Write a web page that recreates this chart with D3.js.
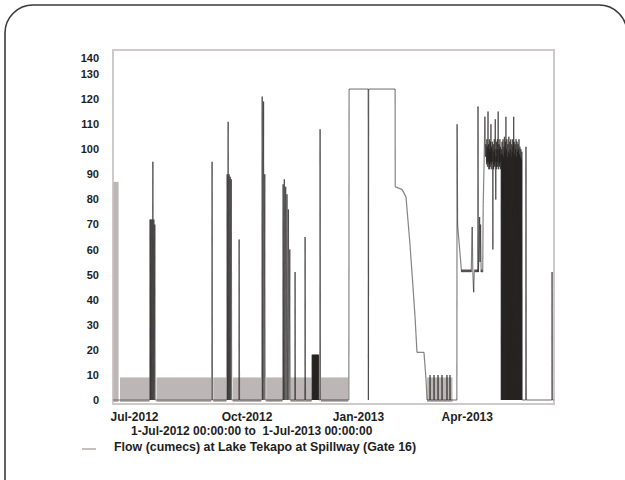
<!DOCTYPE html>
<html>
<head>
<meta charset="utf-8">
<script src="https://cdn.jsdelivr.net/npm/d3@7"></script>
<style>
  html, body { margin: 0; padding: 0; background: #ffffff; }
  svg { display: block; }
  text { font-family: "Liberation Sans", Arial, sans-serif; font-weight: bold; fill: #1e1e1e; }
</style>
</head>
<body>
<svg id="chart" width="625" height="480"></svg>
<script>
// ---------------- data ----------------
const periodStart = "2012-07-01";
const periodEnd = "2013-07-01";
const yTickValues = [0, 10, 20, 30, 40, 50, 60, 70, 80, 90, 100, 110, 120, 130, 140];
const xTickDates = ["2012-07-01", "2012-10-01", "2013-01-01", "2013-04-01"];
const rangeLabel = "1-Jul-2012 00:00:00 to  1-Jul-2013 00:00:00";
const seriesName = "Flow (cumecs) at Lake Tekapo at Spillway (Gate 16)";

// periods where the gate cycled rapidly: [startDay, endDay, low, high] (days since 1-Jul-2012)
const cyclingBands = [
  [0.3, 4.6, 0, 87],
  [5.8, 30.2, 0, 9],
  [36.0, 81.3, 0, 9],
  [83.0, 93.8, 0, 9],
  [99.2, 122.6, 0, 9],
  [126.8, 140.2, 0, 9],
  [147.0, 164.3, 0, 9],
  [172.2, 194.6, 0, 9],
  [260.0, 281.0, 0, 9]
];

// flow trace: [day since 1-Jul-2012, cumecs]
const flowSeries = [
  [0, 0],
  [30.5, 0], [30.7, 72], [31.0, 0], [31.4, 72], [31.7, 0], [32.2, 72], [32.5, 0], [33.0, 95], [33.3, 0],
  [33.8, 72], [34.1, 0], [34.6, 70], [34.9, 0],
  [81.8, 0], [82.0, 95], [82.3, 0],
  [94.3, 0], [94.5, 90], [94.8, 0], [95.3, 111], [95.6, 0], [96.1, 90], [96.4, 0], [97.0, 89], [97.3, 0],
  [97.9, 88], [98.2, 0],
  [104.2, 0], [104.4, 64], [104.7, 0],
  [123.2, 0], [123.5, 121], [123.8, 0], [124.6, 119], [124.9, 0], [125.6, 90], [125.9, 0],
  [140.6, 0], [140.8, 86], [141.1, 0], [141.8, 88], [142.1, 0], [142.9, 85], [143.2, 0], [144.0, 82], [144.3, 0],
  [145.2, 76], [145.5, 0], [146.3, 60], [146.6, 0],
  [150.5, 0], [150.7, 51], [151.0, 0],
  [158.8, 0], [159.0, 65], [159.3, 0],
  [164.7, 0], [164.9, 18], [165.1, 0], [165.3, 18], [165.5, 0], [165.7, 18], [165.9, 0], [166.1, 18], [166.3, 0],
  [166.5, 18], [166.7, 0], [166.9, 18], [167.1, 0], [167.3, 18], [167.5, 0], [167.7, 18], [167.9, 0], [168.1, 18],
  [168.3, 0], [168.5, 18], [168.7, 0], [168.9, 18], [169.1, 0], [169.3, 18], [169.5, 0], [169.7, 18], [169.9, 0],
  [170.1, 18], [170.3, 0],
  [171.2, 0], [171.4, 108], [171.7, 0],
  [195.2, 0], [195.4, 124], [211.2, 124], [211.4, 0], [211.6, 124], [233.5, 124], [233.6, 85], [239.2, 84],
  [242.5, 81], [245.8, 62], [248.3, 45], [250.0, 33], [251.6, 19], [257.4, 19], [259.1, 8], [259.9, 0],
  [262.3, 0], [262.4, 10], [262.6, 0], [265.6, 0], [265.7, 10], [265.9, 0], [268.9, 0], [269.0, 10], [269.2, 0],
  [272.2, 0], [272.3, 10], [272.5, 0], [276.3, 0], [276.4, 10], [276.6, 0], [278.8, 0], [278.9, 10], [279.1, 0],
  [284.6, 0], [284.8, 110], [285.2, 70], [288.5, 51],
  [289.0, 52], [289.5, 51], [290.0, 52], [290.5, 51], [291.0, 52], [291.5, 51], [292.0, 52], [292.5, 51],
  [293.0, 52], [293.5, 51], [294.0, 52], [294.5, 51], [295.0, 52], [295.5, 51], [296.0, 52], [296.5, 51],
  [297.3, 69], [297.8, 51], [298.5, 43], [299.0, 51], [299.5, 52], [300.0, 51], [300.5, 52], [301.0, 51],
  [301.5, 52], [301.9, 51], [302.1, 117], [302.4, 51], [303.0, 60], [303.4, 73], [303.8, 55], [304.2, 70],
  [304.7, 51], [305.2, 52], [305.6, 51], [306.0, 51], [306.4, 78], [307.2, 96], [307.8, 113], [308.3, 97],
  [308.6, 102],
  [309.0, 100], [309.2, 94], [309.4, 104], [309.6, 95], [309.8, 101], [310.0, 93], [310.2, 103], [310.4, 115],
  [310.6, 95], [310.8, 102], [311.0, 92], [311.2, 100], [311.4, 94], [311.6, 104], [311.8, 92], [312.0, 99],
  [312.2, 93], [312.4, 103], [312.6, 95], [312.8, 110], [313.0, 94], [313.2, 101], [313.4, 92], [313.6, 100],
  [313.8, 95], [314.0, 103], [314.2, 93], [314.4, 60], [314.6, 96], [314.8, 102], [315.0, 92], [315.2, 99],
  [315.4, 94], [315.6, 104], [315.8, 93], [316.0, 100], [316.2, 95], [316.4, 112], [316.6, 94], [316.8, 80],
  [317.0, 97], [317.2, 93], [317.4, 103], [317.6, 92], [317.8, 100], [318.0, 95], [318.2, 104], [318.4, 93],
  [318.6, 99], [318.8, 115], [319.0, 96], [319.2, 92], [319.4, 102], [319.6, 94], [319.8, 100], [320.0, 93],
  [320.2, 104], [320.4, 95], [320.6, 101], [320.8, 92], [321.0, 98], [321.2, 94], [321.4, 0],
  [321.6, 100], [321.8, 0], [322.0, 103], [322.2, 0], [322.4, 98], [322.6, 0], [322.8, 104], [323.0, 0],
  [323.2, 97], [323.4, 0], [323.6, 101], [323.8, 0], [324.0, 105], [324.2, 0], [324.4, 99], [324.6, 0],
  [324.8, 103], [325.0, 0], [325.2, 113], [325.4, 0], [325.6, 100], [325.8, 0], [326.0, 104], [326.2, 0],
  [326.4, 97], [326.6, 0], [326.8, 102], [327.0, 0], [327.2, 99], [327.4, 0], [327.6, 105], [327.8, 0],
  [328.0, 98], [328.2, 0], [328.4, 103], [328.6, 0], [328.8, 100], [329.0, 0], [329.2, 104], [329.4, 0],
  [329.6, 97], [329.8, 0], [330.0, 102], [330.2, 0], [330.4, 99], [330.6, 0], [330.8, 104], [331.0, 0],
  [331.2, 101], [331.4, 0], [331.6, 113], [331.8, 0], [332.0, 103], [332.2, 0], [332.4, 98], [332.6, 0],
  [332.8, 102], [333.0, 0], [333.2, 100], [333.4, 0], [333.6, 104], [333.8, 0], [334.0, 97], [334.2, 0],
  [334.4, 103], [334.6, 0], [334.8, 99], [335.0, 0], [335.2, 102], [335.4, 0], [335.6, 100], [335.8, 0],
  [336.0, 104], [336.2, 0], [336.4, 98], [336.6, 0], [336.8, 101], [337.0, 0], [337.2, 97], [337.4, 0],
  [337.6, 100], [337.8, 0], [338.0, 96], [338.2, 0], [338.4, 99], [338.6, 0],
  [341.6, 0], [341.8, 101], [342.1, 0],
  [363.2, 0], [363.4, 51], [363.7, 0], [365, 0]
];

// ---------------- drawing ----------------
const svg = d3.select("#chart");
const t0 = Date.parse(periodStart + "T00:00:00Z");
const dayToDate = d => new Date(t0 + d * 864e5);
const parseUtc = s => new Date(Date.parse(s + "T00:00:00Z"));

const x = d3.scaleUtc()
  .domain([parseUtc(periodStart), parseUtc(periodEnd)])
  .range([113, 554]);
const y = d3.scaleLinear()
  .domain([0, 130, 140])
  .range([400, 74, 58]);

// outer card
svg.append("rect")
  .attr("x", 5).attr("y", 5)
  .attr("width", 622).attr("height", 540)
  .attr("rx", 28).attr("ry", 28)
  .attr("fill", "#ffffff")
  .attr("stroke", "#3a3a3a")
  .attr("stroke-width", 1.6);

// plot frame
svg.append("rect")
  .attr("x", 113).attr("y", 50)
  .attr("width", 441).attr("height", 354)
  .attr("fill", "none")
  .attr("stroke", "#cfcaca")
  .attr("stroke-width", 2);

// cycling bands
svg.append("g").selectAll("rect")
  .data(cyclingBands)
  .join("rect")
  .attr("x", d => x(dayToDate(d[0])))
  .attr("width", d => x(dayToDate(d[1])) - x(dayToDate(d[0])))
  .attr("y", d => y(d[3]))
  .attr("height", d => y(d[2]) - y(d[3]) + 2)
  .attr("fill", "#bdb6b6");

// flow trace as overlapping segments so that dense sections darken
const segs = d3.pairs(flowSeries);
svg.append("g").selectAll("line")
  .data(segs)
  .join("line")
  .attr("x1", d => x(dayToDate(d[0][0])))
  .attr("y1", d => y(d[0][1]))
  .attr("x2", d => x(dayToDate(d[1][0])))
  .attr("y2", d => y(d[1][1]))
  .attr("stroke", "#221e1e")
  .attr("stroke-opacity", 0.55)
  .attr("stroke-width", 1.2);

// y axis
const yAxis = svg.append("g")
  .attr("transform", "translate(113,0)")
  .call(d3.axisLeft(y).tickValues(yTickValues).tickSize(0).tickPadding(14));
yAxis.select(".domain").remove();
yAxis.selectAll("text").style("font-size", "11px").attr("fill", "#1e1e1e");

// x axis
const xAxis = svg.append("g")
  .attr("transform", "translate(0,404)")
  .call(d3.axisBottom(x)
    .tickValues(xTickDates.map(parseUtc))
    .tickFormat(d3.utcFormat("%b-%Y"))
    .tickSize(0).tickPadding(8));
xAxis.select(".domain").remove();
xAxis.selectAll("text")
  .attr("text-anchor", "start")
  .attr("dx", "-3")
  .style("font-size", "12px")
  .attr("fill", "#1e1e1e");

// date range label
svg.append("text")
  .attr("x", 131).attr("y", 435)
  .style("font-size", "12px")
  .attr("xml:space", "preserve")
  .style("white-space", "pre")
  .text(rangeLabel);

// legend
svg.append("line")
  .attr("x1", 82).attr("x2", 96)
  .attr("y1", 449).attr("y2", 449)
  .attr("stroke", "#c9bcbc").attr("stroke-width", 2);
svg.append("text")
  .attr("x", 114).attr("y", 451)
  .style("font-size", "12.4px")
  .text(seriesName);
</script>
</body>
</html>
